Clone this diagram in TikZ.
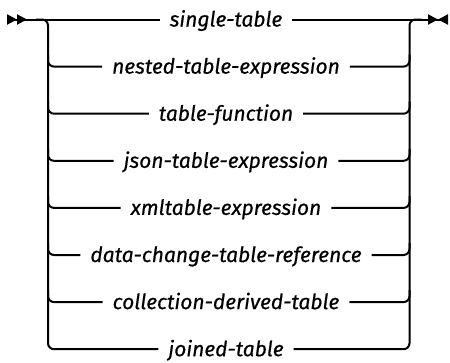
\documentclass[tikz,border=0pt]{standalone}
\usepackage{fontspec}
\setmainfont{Fira Sans}
\newfontfamily\termfont{Fira Sans}[FakeBold=0.5]
\usetikzlibrary{arrows.meta, positioning, calc}
\tikzset{
  every picture/.style={x=1pt, y=1pt, line width=2pt},
  rail/.style={draw=black, line width=2pt},
  term/.style={font=\termfont\itshape\fontsize{21}{24}\selectfont, inner xsep=9pt, inner ysep=0pt,
    text height=18pt, text depth=4pt},
  begintip/.style={{Triangle[reversed, length=10pt, width=10pt] Triangle[reversed, length=10pt, width=10pt]}-},
  endtip/.style={-{Triangle[length=10pt, width=10pt] Triangle[reversed, length=10pt, width=10pt]}},
}
\begin{document}
\begin{tikzpicture}
  \useasboundingbox (0,0) rectangle (450,-362);
  % rails and ends
  \coordinate (lv) at (48,0);
  \coordinate (rv) at (409.5,0);
  \coordinate (start) at (7,-19.5);
  \coordinate (finish) at (448,-19.5);
  % choices
  \foreach \t [count=\i from 0] in {single-table, nested-table-expression, table-function,
      json-table-expression, xmltable-expression, data-change-table-reference,
      collection-derived-table, joined-table}
    \node[term] (t\i) at (226,{-19.5-47.1*\i}) {\t};
  % main line
  \draw[rail, begintip] (start) -- (t0.west);
  \draw[rail, endtip] (t0.east) -- (finish);
  % outer branch
  \draw[rail, rounded corners=6pt] ([xshift=-12pt]t0.west -| lv) -- (t0.west -| lv) |- (t7.west);
  \draw[rail, rounded corners=6pt] (t7.east) -| (t0.east -| rv) -- ([xshift=12pt]t0.east -| rv);
  % inner branches
  \foreach \i in {1,...,6} {
    \draw[rail, rounded corners=6pt] ([yshift=12pt]t\i.west -| lv) |- (t\i.west);
    \draw[rail, rounded corners=6pt] (t\i.east) -| ([yshift=12pt]t\i.east -| rv);
  }
\end{tikzpicture}
\end{document}
